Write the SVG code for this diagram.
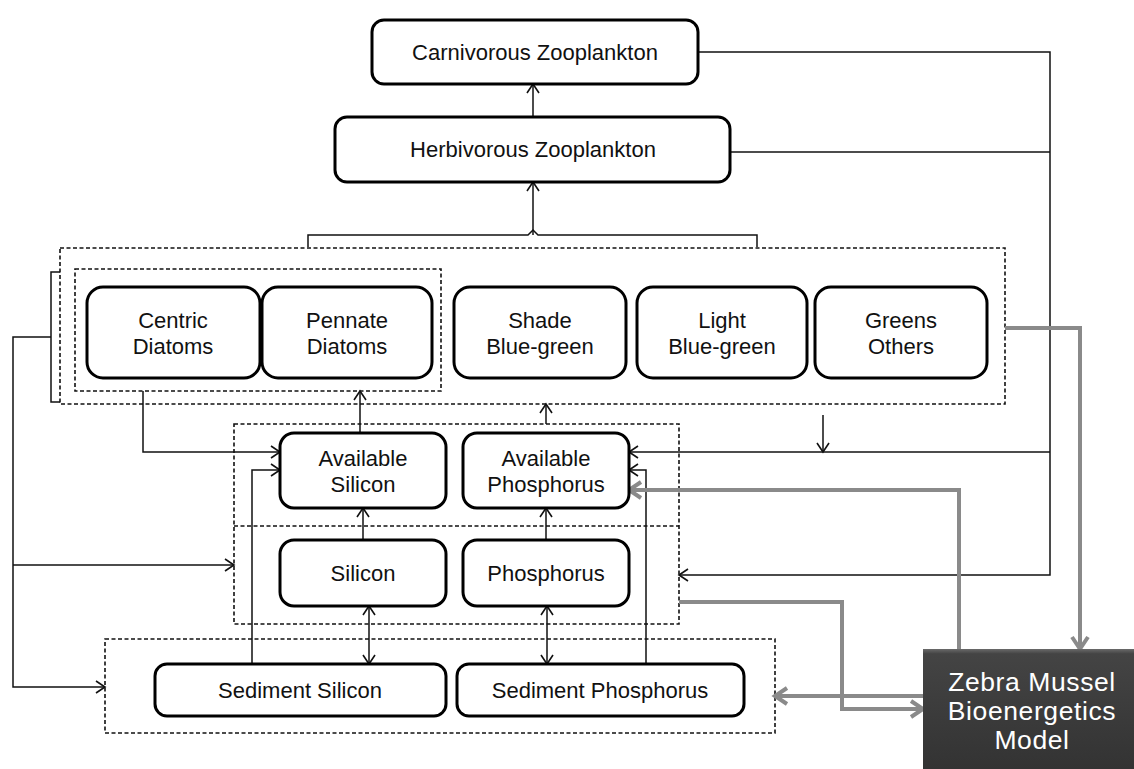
<svg xmlns="http://www.w3.org/2000/svg" width="1134" height="769" viewBox="0 0 1134 769">
<defs>
<style>
.box{fill:#fff;stroke:#000;stroke-width:3}
.dash{fill:none;stroke:#111;stroke-width:1.6;stroke-dasharray:4 2.5}
.ln{fill:none;stroke:#111;stroke-width:1.5}
.gl{fill:none;stroke:#8a8a8a;stroke-width:4}
.t{font-family:"Liberation Sans",Arial,sans-serif;font-size:22px;fill:#111;text-anchor:middle}
.zt{font-family:"Liberation Sans",Arial,sans-serif;font-size:26.5px;letter-spacing:0.6px;fill:#fff;text-anchor:middle}
</style>
<marker id="a" markerUnits="userSpaceOnUse" markerWidth="14" markerHeight="14" refX="10" refY="7" orient="auto-start-reverse">
<path d="M1,1 L10,7 L1,13" fill="none" stroke="#111" stroke-width="1.6"/>
</marker>
<marker id="g" markerUnits="userSpaceOnUse" markerWidth="18" markerHeight="20" refX="14" refY="10" orient="auto-start-reverse">
<path d="M2,2 L14,10 L2,18" fill="none" stroke="#8a8a8a" stroke-width="4"/>
</marker>
<linearGradient id="zg" x1="0" y1="0" x2="0" y2="1">
<stop offset="0" stop-color="#6a6a6a"/>
<stop offset="0.04" stop-color="#444"/>
<stop offset="1" stop-color="#333"/>
</linearGradient>
</defs>

<g id="groups">
<rect class="dash" x="60" y="248" width="945" height="156"/>
<rect class="dash" x="75" y="269" width="366" height="122"/>
<rect class="dash" x="234" y="424" width="445" height="200"/>
<line class="dash" x1="234" y1="526" x2="679" y2="526"/>
<rect class="dash" x="105" y="639" width="670" height="94"/>
</g>

<g id="connectors">
<path class="ln" d="M533,117 L533,84" marker-end="url(#a)"/>
<path class="ln" d="M533,235 L533,182" marker-end="url(#a)"/>
<path class="ln" d="M308,247 L308,235 L528,235 L533,230 L538,235 L757,235 L757,247"/>
<path class="ln" d="M60,272 L51,272 L51,402 L60,402"/>
<path class="ln" d="M51,337 L13,337 L13,687 L105,687" marker-end="url(#a)"/>
<path class="ln" d="M13,565 L234,565" marker-end="url(#a)"/>
<path class="ln" d="M698,52 L1050,52 L1050,575 L679,575" marker-end="url(#a)"/>
<path class="ln" d="M730,152 L1050,152"/>
<path class="ln" d="M1050,452 L629,452" marker-end="url(#a)"/>
<path class="ln" d="M823,415 L823,452" marker-end="url(#a)"/>
<path class="ln" d="M143,391 L143,452 L280,452" marker-end="url(#a)"/>
<path class="ln" d="M252,664 L252,470 L280,470" marker-end="url(#a)"/>
<path class="ln" d="M646,664 L646,470 L629,470" marker-end="url(#a)"/>
<path class="ln" d="M360,433 L360,391" marker-end="url(#a)"/>
<path class="ln" d="M363,540 L363,508" marker-end="url(#a)"/>
<path class="ln" d="M546,540 L546,508" marker-end="url(#a)"/>
<path class="ln" d="M546,424 L546,404" marker-end="url(#a)"/>
<path class="ln" d="M369,606 L369,664" marker-start="url(#a)" marker-end="url(#a)"/>
<path class="ln" d="M547,606 L547,664" marker-start="url(#a)" marker-end="url(#a)"/>
<path class="gl" d="M1005,328 L1080,328 L1080,649" marker-end="url(#g)"/>
<path class="gl" d="M959,649 L959,490 L629,490" marker-end="url(#g)"/>
<path class="gl" d="M679,602 L842,602 L842,709 L923,709" marker-end="url(#g)"/>
<path class="gl" d="M923,696 L775,696" marker-end="url(#g)"/>
</g>

<g id="carnivorous">
<rect class="box" x="372" y="20" width="326" height="64" rx="12"/>
<text class="t" x="535" y="60">Carnivorous Zooplankton</text>
</g>
<g id="herbivorous">
<rect class="box" x="335" y="117" width="395" height="65" rx="12"/>
<text class="t" x="533" y="157">Herbivorous Zooplankton</text>
</g>
<g id="centric">
<rect class="box" x="87" y="287" width="173" height="91" rx="16"/>
<text class="t" x="173" y="328">Centric</text>
<text class="t" x="173" y="354">Diatoms</text>
</g>
<g id="pennate">
<rect class="box" x="262" y="287" width="170" height="91" rx="16"/>
<text class="t" x="347" y="328">Pennate</text>
<text class="t" x="347" y="354">Diatoms</text>
</g>
<g id="shade">
<rect class="box" x="454" y="287" width="172" height="91" rx="16"/>
<text class="t" x="540" y="328">Shade</text>
<text class="t" x="540" y="354">Blue-green</text>
</g>
<g id="light">
<rect class="box" x="637" y="287" width="170" height="91" rx="16"/>
<text class="t" x="722" y="328">Light</text>
<text class="t" x="722" y="354">Blue-green</text>
</g>
<g id="greens">
<rect class="box" x="815" y="287" width="172" height="91" rx="16"/>
<text class="t" x="901" y="328">Greens</text>
<text class="t" x="901" y="354">Others</text>
</g>
<g id="avail-silicon">
<rect class="box" x="280" y="433" width="166" height="75" rx="14"/>
<text class="t" x="363" y="466">Available</text>
<text class="t" x="363" y="492">Silicon</text>
</g>
<g id="avail-phosphorus">
<rect class="box" x="463" y="433" width="166" height="75" rx="14"/>
<text class="t" x="546" y="466">Available</text>
<text class="t" x="546" y="492">Phosphorus</text>
</g>
<g id="silicon">
<rect class="box" x="280" y="540" width="166" height="66" rx="14"/>
<text class="t" x="363" y="581">Silicon</text>
</g>
<g id="phosphorus">
<rect class="box" x="463" y="540" width="166" height="66" rx="14"/>
<text class="t" x="546" y="581">Phosphorus</text>
</g>
<g id="sediment-silicon">
<rect class="box" x="155" y="664" width="291" height="52" rx="12"/>
<text class="t" x="300" y="698">Sediment Silicon</text>
</g>
<g id="sediment-phosphorus">
<rect class="box" x="457" y="664" width="287" height="52" rx="12"/>
<text class="t" x="600" y="698">Sediment Phosphorus</text>
</g>
<g id="zebra">
<rect x="923" y="649" width="211" height="120" fill="url(#zg)"/>
<text class="zt" x="1032" y="691">Zebra Mussel</text>
<text class="zt" x="1032" y="720">Bioenergetics</text>
<text class="zt" x="1032" y="749">Model</text>
</g>
</svg>
